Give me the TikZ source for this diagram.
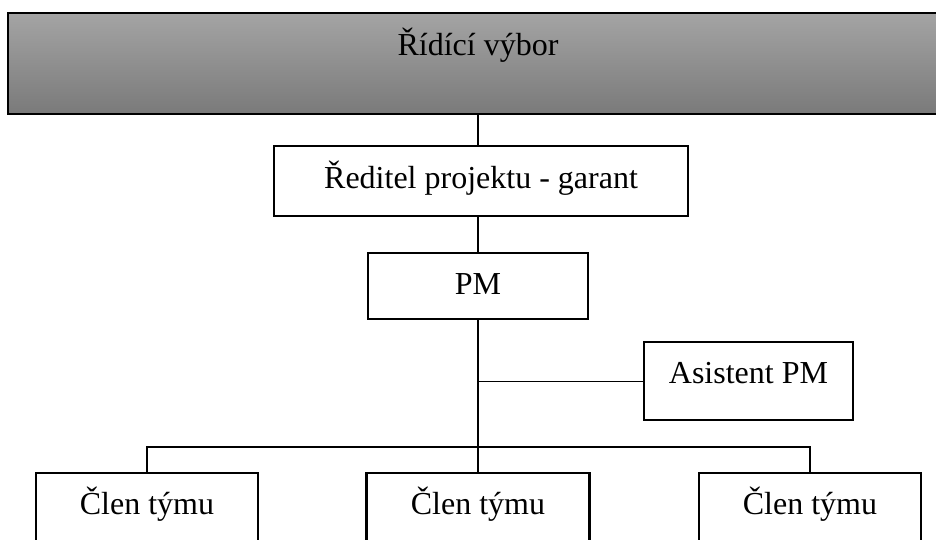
\documentclass[tikz,border=0pt]{standalone}
\usepackage{fontspec}
\setmainfont{Liberation Serif}
\definecolor{boardtop}{RGB}{164,164,164}
\definecolor{boardbot}{RGB}{122,122,122}
\tikzset{
  box/.style={draw, line width=2.2pt, inner sep=0pt, text height=41pt, anchor=north,
    font=\fontsize{32}{38}\selectfont},
  link/.style={line width=1.1pt}
}
\begin{document}
\begin{tikzpicture}[x=1pt, y=-1pt]
\useasboundingbox (0,0) rectangle (936,539);
\clip (0,0) rectangle (936,539);
\node[box, top color=boardtop, bottom color=boardbot, line width=1.8pt, minimum width=940pt, text height=43pt, text depth=58pt] (board) at (478,12) {Řídící výbor};
  \node[box, minimum width=414pt, text height=42pt, text depth=28pt] (director) at (481,145) {Ředitel projektu - garant};
  \node[box, minimum width=220pt, text depth=25pt] (pm) at (478,252) {PM};
  \node[box, minimum width=209pt, text depth=37pt] (assistant) at (748.5,341) {Asistent PM};
  \coordinate (bus) at (478,447);
    \node[box, minimum width=222pt, text depth=80pt] (member1) at (147,472) {Člen týmu};
    \node[box, minimum width=223pt, text depth=80pt] (member2) at (478,472) {Člen týmu};
    \node[box, minimum width=222pt, text depth=80pt] (member3) at (810,472) {Člen týmu};
  \draw[link] (board.south -| pm.north) -- (director.north -| pm.north);
  \draw[link] (director.south -| pm.north) -- (pm.north);
  \draw[link] (pm.south) -- (bus) -- (member2.north);
  \draw[link] (pm.south |- assistant.west) -- (assistant.west);
  \draw[link] (member1.north) -- (member1.north |- bus) -- (member3.north |- bus) -- (member3.north);
\end{tikzpicture}
\end{document}
